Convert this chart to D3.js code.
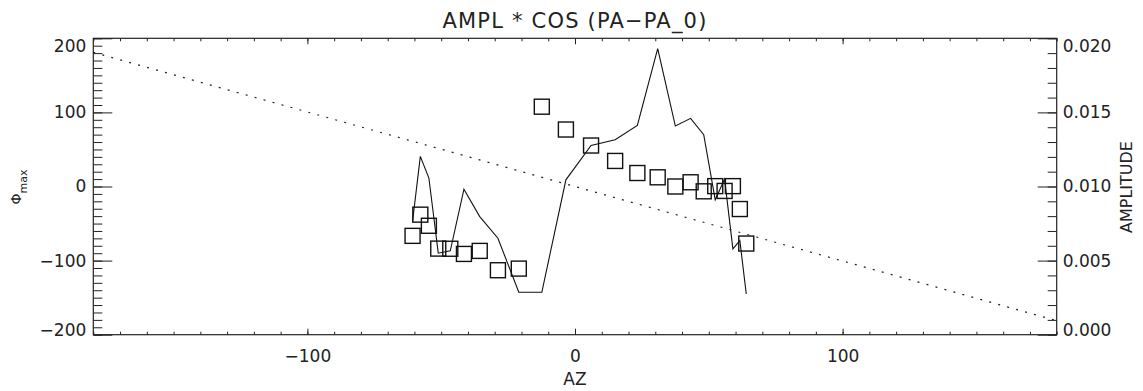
<!DOCTYPE html>
<html>
<head>
<meta charset="utf-8">
<script src="https://cdn.jsdelivr.net/npm/d3@7"></script>
<style>
  body { margin: 0; background: #fff; }
  text { font-family: "DejaVu Sans", sans-serif; fill: #222; }
</style>
</head>
<body>
<div id="chart"></div>
<script>
// azimuth of each measurement
const az = [-60.7, -57.8, -54.6, -51.1, -46.6, -41.5, -35.6, -28.8, -21.0, -12.4, -3.4, 6.0,
            15.0, 23.3, 30.9, 37.5, 43.2, 48.1, 52.4, 55.9, 59.0, 61.6, 64.0]
// phi_max (squares, left axis)
const phi = [-66.6, -38, -53, -83.8, -84, -91, -86.9, -113, -110.8, 107.7, 76.9, 55.3,
             34.5, 18.2, 12.4, 0, 5.7, -6.5, 0.5, -6, 0.5, -30.4, -77]
// amplitude (solid line, right axis)
const ampl = [0.00764, 0.01203, 0.01057, 0.0055, 0.00566, 0.00982, 0.00797, 0.00651, 0.00286, 0.00286,
              0.01045, 0.01277, 0.01316, 0.01412, 0.01931, 0.01408, 0.0146, 0.01349, 0.0091, 0.0105,
              0.00579, 0.00635, 0.00275]
// dotted reference line
const refAz = [-180, 180]
const refPhi = [181, -181]

const xTicks = [-100, 0, 100]
const yTicks = [-200, -100, 0, 100, 200]
const ampTicks = [0, 0.005, 0.010, 0.015, 0.020]

const MARGIN = {TOP: 38.3, BOTTOM: 56.3, LEFT: 93.3, RIGHT: 86.3}
const W = 1143, H = 391
const WIDTH = W - MARGIN.LEFT - MARGIN.RIGHT
const HEIGHT = H - MARGIN.TOP - MARGIN.BOTTOM

const svg = d3.select("#chart").append("svg")
    .attr("width", W).attr("height", H)

const x = d3.scaleLinear().domain([-180, 180]).range([MARGIN.LEFT, MARGIN.LEFT + WIDTH])
const yL = d3.scaleLinear().domain([-200, 200]).range([MARGIN.TOP + HEIGHT, MARGIN.TOP])
const yR = d3.scaleLinear().domain([0, 0.02]).range([MARGIN.TOP + HEIGHT, MARGIN.TOP])

const bottom = MARGIN.TOP + HEIGHT, right = MARGIN.LEFT + WIDTH

function style(g, size) {
    g.select(".domain").remove()
    g.attr("font-family", null).attr("font-size", size)
    g.selectAll("line").attr("stroke", "#222")
    return g
}
const endShift = (d, lo, hi) => d === hi ? 8 : d === lo ? -5 : 0

// x axes (bottom with labels, top plain)
svg.append("g").attr("transform", `translate(0,${bottom})`)
    .call(d3.axisBottom(x).tickValues(d3.range(-180, 181, 10)).tickSize(-3).tickFormat(""))
    .call(g => style(g, 17))
svg.append("g").attr("transform", `translate(0,${bottom})`)
    .call(d3.axisBottom(x).tickValues(xTicks).tickSize(-6).tickPadding(15).tickFormat(d3.format("d")))
    .call(g => style(g, 17))
svg.append("g").attr("transform", `translate(0,${MARGIN.TOP})`)
    .call(d3.axisTop(x).tickValues(d3.range(-180, 181, 10)).tickSize(-3).tickFormat(""))
    .call(g => style(g, 17))
svg.append("g").attr("transform", `translate(0,${MARGIN.TOP})`)
    .call(d3.axisTop(x).tickValues(xTicks).tickSize(-6).tickFormat(""))
    .call(g => style(g, 17))

// left axis
svg.append("g").attr("transform", `translate(${MARGIN.LEFT},0)`)
    .call(d3.axisLeft(yL).tickValues(d3.range(-200, 201, 10)).tickSize(-9).tickFormat(""))
    .call(g => style(g, 17))
svg.append("g").attr("transform", `translate(${MARGIN.LEFT},0)`)
    .call(d3.axisLeft(yL).tickValues(yTicks).tickSize(-19).tickPadding(7).tickFormat(d3.format("d")))
    .call(g => style(g, 17))
    .selectAll("text").attr("y", d => endShift(d, -200, 200))

// right axis
svg.append("g").attr("transform", `translate(${right},0)`)
    .call(d3.axisRight(yR).tickValues(d3.range(0, 21).map(i => i / 1000)).tickSize(-9).tickFormat(""))
    .call(g => style(g, 17))
svg.append("g").attr("transform", `translate(${right},0)`)
    .call(d3.axisRight(yR).tickValues(ampTicks).tickSize(-19).tickPadding(6).tickFormat(d3.format(".3f")))
    .call(g => style(g, 17))
    .selectAll("text").attr("y", d => endShift(d, 0, 0.02))

// frame
svg.append("rect")
    .attr("x", MARGIN.LEFT).attr("y", MARGIN.TOP)
    .attr("width", WIDTH).attr("height", HEIGHT)
    .attr("fill", "none").attr("stroke", "#222").attr("stroke-width", 1.2)

// titles
svg.append("text").attr("x", 575).attr("y", 28.3)
    .attr("text-anchor", "middle").attr("font-size", 21).attr("letter-spacing", 1.2)
    .text("AMPL * COS (PA\u2212PA_0)")
svg.append("text").attr("x", 575).attr("y", 385)
    .attr("text-anchor", "middle").attr("font-size", 17)
    .text("AZ")
const ylab = svg.append("text")
    .attr("transform", "translate(20.7,187) rotate(-90)")
    .attr("text-anchor", "middle")
ylab.append("tspan").attr("font-size", 14).text("\u03A6")
ylab.append("tspan").attr("font-size", 11).attr("dy", 6).text("max")
svg.append("text")
    .attr("transform", "translate(1132,187) rotate(-90)")
    .attr("text-anchor", "middle").attr("font-size", 16)
    .text("AMPLITUDE")

// dotted line
svg.append("path")
    .datum(d3.zip(refAz, refPhi))
    .attr("d", d3.line().x(d => x(d[0])).y(d => yL(d[1])))
    .attr("fill", "none").attr("stroke", "#222").attr("stroke-width", 1.2)
    .attr("stroke-dasharray", "2,7.3")

// amplitude line
svg.append("path")
    .datum(d3.zip(az, ampl))
    .attr("d", d3.line().x(d => x(d[0])).y(d => yR(d[1])))
    .attr("fill", "none").attr("stroke", "#111").attr("stroke-width", 1.1)

// squares
const S = 15
svg.selectAll("rect.pt")
    .data(d3.zip(az, phi))
    .enter().append("rect")
    .attr("class", "pt")
    .attr("x", d => x(d[0]) - S / 2)
    .attr("y", d => yL(d[1]) - S / 2)
    .attr("width", S).attr("height", S)
    .attr("fill", "none").attr("stroke", "#111").attr("stroke-width", 1.4)
</script>
</body>
</html>
